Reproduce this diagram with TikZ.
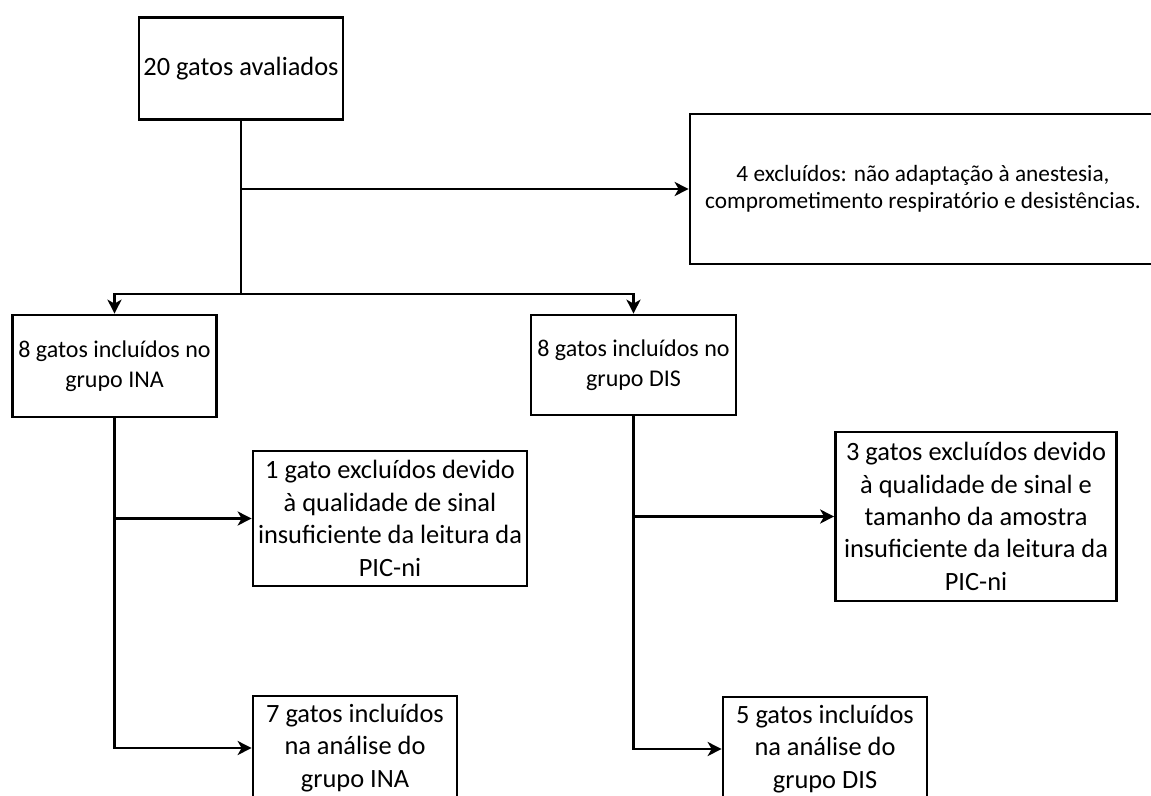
\documentclass[tikz,border=0pt]{standalone}
\usepackage{fontspec}
\setmainfont{Carlito}
\usetikzlibrary{arrows.meta}
\tikzset{
  box/.style={draw=black, line width=2.7pt, fill=white, align=center, inner sep=0pt, font=\fontsize{26.4}{32.4}\selectfont},
  midbox/.style={box, font=\fontsize{24}{29.5}\selectfont},
  widebox/.style={box, font=\fontsize{23.3}{27}\selectfont},
  conn/.style={line width=2.8pt, draw=black},
  arr/.style={conn, -{Stealth[length=14pt,width=14pt,inset=4pt]}},
}
\begin{document}
\begin{tikzpicture}[x=1pt,y=-1pt]
\useasboundingbox (0,0) rectangle (1151,795);
\clip (0,0) rectangle (1151,795);
\fill[white] (0,0) rectangle (1151,795);

\node[box, minimum width=204pt, minimum height=102pt] (top) at (241,68.5) {20 gatos avaliados};
\node[widebox, minimum width=466pt, minimum height=150pt] (rbox) at (923,189)
  {4 excluídos: não adaptação à anestesia,\\comprometimento respiratório e desistências.};

\node[midbox, minimum width=204pt, minimum height=102pt] (ina) at (114.5,366) {8 gatos incluídos no\\grupo INA};
\node[midbox, minimum width=205pt, minimum height=100pt] (dis) at (633.5,365) {8 gatos incluídos no\\grupo DIS};

\node[box, minimum width=274pt, minimum height=135pt] (ex1) at (390,518.5)
  {1 gato excluídos devido\\à qualidade de sinal\\insuficiente da leitura da\\PIC-ni};
\node[box, minimum width=281pt, minimum height=169pt] (ex2) at (976,516.5)
  {3 gatos excluídos devido\\à qualidade de sinal e\\tamanho da amostra\\insuficiente da leitura da\\PIC-ni};

\node[box, minimum width=204pt, minimum height=104pt] (inc1) at (355,748)
  {7 gatos incluídos\\na análise do\\grupo INA};
\node[box, minimum width=204pt, minimum height=104pt] (inc2) at (825,749)
  {5 gatos incluídos\\na análise do\\grupo DIS};

\coordinate (split) at (241,294);
\draw[conn] (top.south) -- (split);
\draw[arr] (top.south |- rbox.west) -- (rbox.west);
\draw[arr] (split) -| (ina.north);
\draw[arr] (split) -| (dis.north);
\draw[arr] (ina.south) |- (ex1.west);
\draw[arr] (ina.south) |- (inc1.west);
\draw[arr] (dis.south) |- (ex2.west);
\draw[arr] (dis.south) |- (inc2.west);
\end{tikzpicture}
\end{document}
